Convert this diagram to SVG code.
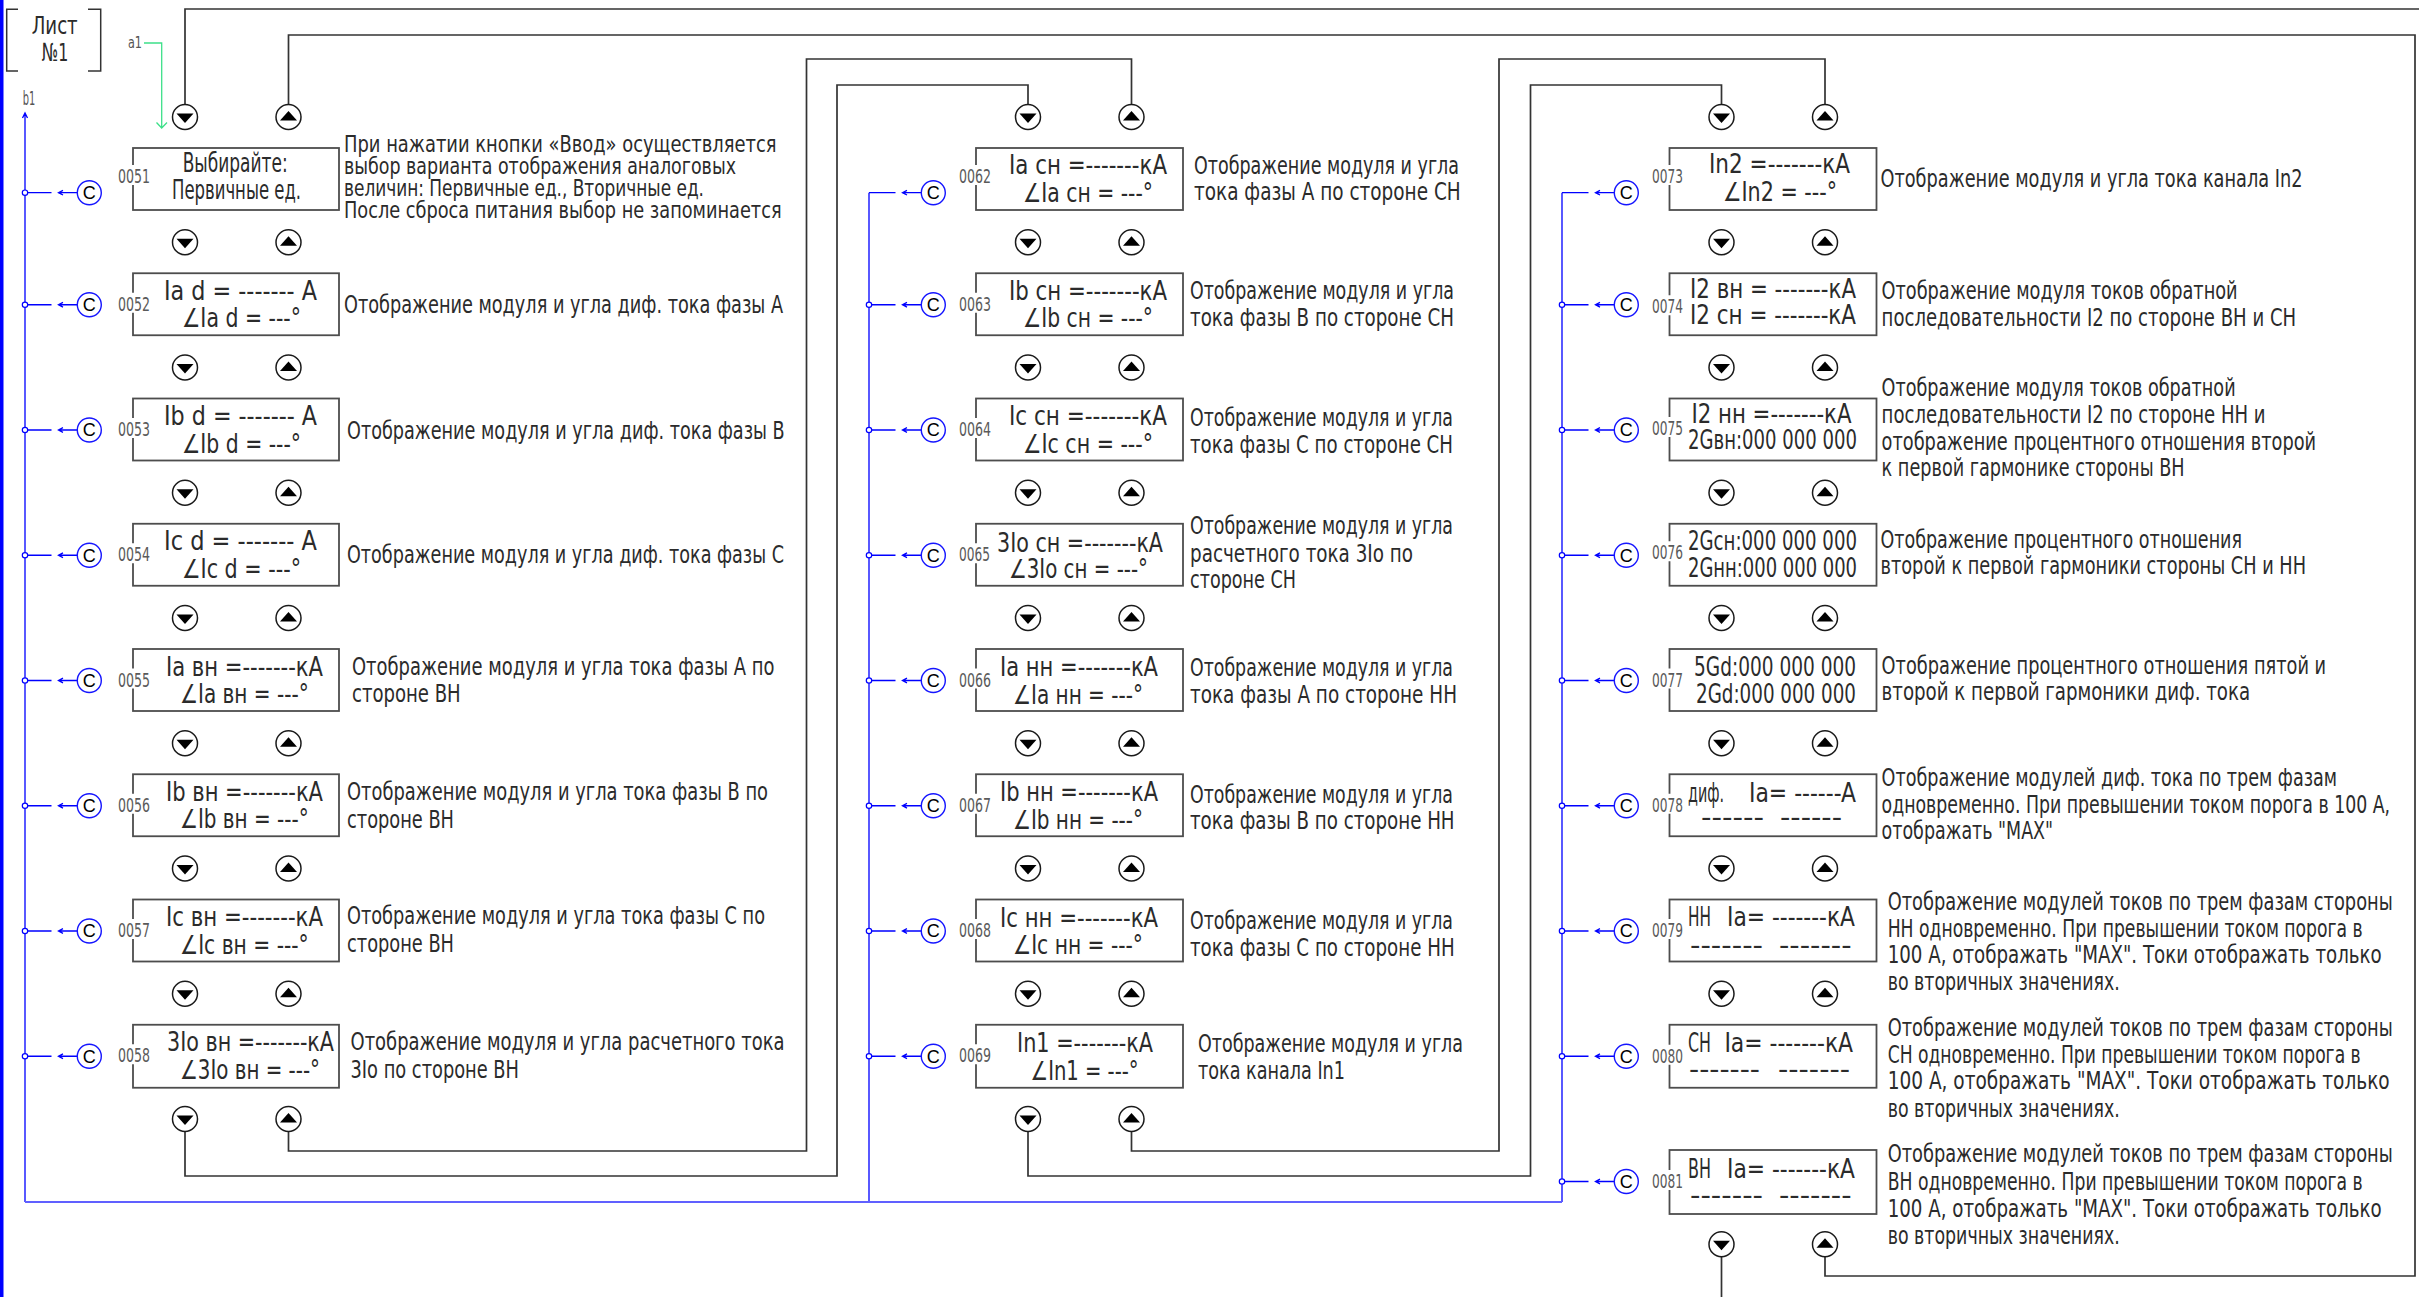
<svg xmlns="http://www.w3.org/2000/svg" xmlns:xlink="http://www.w3.org/1999/xlink" width="2419" height="1297" viewBox="0 0 2419 1297">
<style>
.t{font-family:"Liberation Sans Narrow","DejaVu Sans Condensed","Liberation Sans",sans-serif;fill:#2b2b2b}
.bx{font-size:26px}
.ds{font-size:25px}
.d23{font-size:23px}
.nm{font-size:20px;fill:#5a5a5a}
.box{fill:#fff;stroke:#4d4d4d;stroke-width:1.8}
.bc{fill:#fff;stroke:#1a1a1a;stroke-width:1.5}
.tri{fill:#000}
.w{fill:none;stroke:#333;stroke-width:1.7}
.bl{fill:none;stroke:#0000ff;stroke-width:1.3}
.cc{fill:#fff;stroke:#1515ff;stroke-width:1.4}
.ct{font-family:"Liberation Sans","DejaVu Sans",sans-serif;font-size:18px;fill:#000;text-anchor:middle}
.wb{fill:#fff}
</style>
<defs>
<g id="dn"><circle class="bc" r="12.5"/><path class="tri" d="M-8.5,-3.5 H8.5 L0,6 Z"/></g>
<g id="up"><circle class="bc" r="12.5"/><path class="tri" d="M-8.5,3.5 H8.5 L0,-6 Z"/></g>
<g id="cc"><path class="bl" d="M0,0 H26.5 M52.3,0 H33.5 M38,-2.3 L33.5,0 L38,2.3"/><circle class="cc" cx="64.3" cy="0" r="12"/><text class="ct" x="64.3" y="6.3">C</text></g>
<g id="jn"><circle r="2.7" fill="#fff" stroke="#0000ff" stroke-width="1.2"/></g>
</defs>
<rect width="2419" height="1297" fill="#fff"/>
<rect x="0" y="0" width="3.5" height="1297" fill="#0000ff"/>

<g id="sheet">
<path d="M18,9.3 H6.7 V71 H18 M88,9.3 H100.7 V71 H88" fill="none" stroke="#333" stroke-width="1.5"/>
<text class="t" style="font-size:24px" x="31.7" y="34" textLength="46" lengthAdjust="spacingAndGlyphs">Лист</text>
<text class="t" style="font-size:25px" x="41.7" y="60.7" textLength="26.6" lengthAdjust="spacingAndGlyphs">№1</text>
<text class="t" style="font-size:16px;fill:#555" x="128" y="48" textLength="14" lengthAdjust="spacingAndGlyphs">a1</text>
<text class="t" style="font-size:20px;fill:#555" x="22.7" y="105" textLength="12.5" lengthAdjust="spacingAndGlyphs">b1</text>
</g>

<g id="connectors">
<path class="w" d="M185,104.5 V9 H2419"/>
<path class="w" d="M288.5,104.5 V35 H2415 V1276 H1825 V1256.75"/>
<path class="w" d="M185,1131.5 V1176 H837 V85 H1028 V104.5"/>
<path class="w" d="M288.5,1131.5 V1151 H806.5 V59 H1131.5 V104.5"/>
<path class="w" d="M1028,1131.5 V1176 H1530.5 V85 H1721.5 V104.5"/>
<path class="w" d="M1131.5,1131.5 V1151 H1499 V59 H1825 V104.5"/>
<path class="w" d="M1721.5,1256.75 V1297"/>
<path d="M144,43 H161.7 V128 M156.5,122.5 L161.7,128 L167,122.5" fill="none" stroke="#3de089" stroke-width="1.3"/>
<path class="bl" d="M25,113 V1202 M22.5,118 L25,113 L27.5,118 M869,192.7 V1202 M1562,192.7 V1202"/>
<path d="M25,1202 H1562" fill="none" stroke="#6060ff" stroke-width="2.2"/>
<use xlink:href="#cc" x="25" y="192.7"/><use xlink:href="#jn" x="25" y="192.7"/>
<use xlink:href="#cc" x="25" y="304.75"/><use xlink:href="#jn" x="25" y="304.75"/>
<use xlink:href="#cc" x="25" y="430"/><use xlink:href="#jn" x="25" y="430"/>
<use xlink:href="#cc" x="25" y="555.25"/><use xlink:href="#jn" x="25" y="555.25"/>
<use xlink:href="#cc" x="25" y="680.5"/><use xlink:href="#jn" x="25" y="680.5"/>
<use xlink:href="#cc" x="25" y="805.75"/><use xlink:href="#jn" x="25" y="805.75"/>
<use xlink:href="#cc" x="25" y="931"/><use xlink:href="#jn" x="25" y="931"/>
<use xlink:href="#cc" x="25" y="1056.25"/><use xlink:href="#jn" x="25" y="1056.25"/>
<use xlink:href="#cc" x="869" y="192.7"/>
<use xlink:href="#cc" x="869" y="304.75"/><use xlink:href="#jn" x="869" y="304.75"/>
<use xlink:href="#cc" x="869" y="430"/><use xlink:href="#jn" x="869" y="430"/>
<use xlink:href="#cc" x="869" y="555.25"/><use xlink:href="#jn" x="869" y="555.25"/>
<use xlink:href="#cc" x="869" y="680.5"/><use xlink:href="#jn" x="869" y="680.5"/>
<use xlink:href="#cc" x="869" y="805.75"/><use xlink:href="#jn" x="869" y="805.75"/>
<use xlink:href="#cc" x="869" y="931"/><use xlink:href="#jn" x="869" y="931"/>
<use xlink:href="#cc" x="869" y="1056.25"/><use xlink:href="#jn" x="869" y="1056.25"/>
<use xlink:href="#cc" x="1562" y="192.7"/>
<use xlink:href="#cc" x="1562" y="304.75"/><use xlink:href="#jn" x="1562" y="304.75"/>
<use xlink:href="#cc" x="1562" y="430"/><use xlink:href="#jn" x="1562" y="430"/>
<use xlink:href="#cc" x="1562" y="555.25"/><use xlink:href="#jn" x="1562" y="555.25"/>
<use xlink:href="#cc" x="1562" y="680.5"/><use xlink:href="#jn" x="1562" y="680.5"/>
<use xlink:href="#cc" x="1562" y="805.75"/><use xlink:href="#jn" x="1562" y="805.75"/>
<use xlink:href="#cc" x="1562" y="931"/><use xlink:href="#jn" x="1562" y="931"/>
<use xlink:href="#cc" x="1562" y="1056.25"/><use xlink:href="#jn" x="1562" y="1056.25"/>
<use xlink:href="#cc" x="1562" y="1181.5"/><use xlink:href="#jn" x="1562" y="1181.5"/>
</g>

<g id="buttons">
<use xlink:href="#dn" x="185" y="117"/><use xlink:href="#up" x="288.5" y="117"/>
<use xlink:href="#dn" x="185" y="242.25"/><use xlink:href="#up" x="288.5" y="242.25"/>
<use xlink:href="#dn" x="185" y="367.5"/><use xlink:href="#up" x="288.5" y="367.5"/>
<use xlink:href="#dn" x="185" y="492.75"/><use xlink:href="#up" x="288.5" y="492.75"/>
<use xlink:href="#dn" x="185" y="618"/><use xlink:href="#up" x="288.5" y="618"/>
<use xlink:href="#dn" x="185" y="743.25"/><use xlink:href="#up" x="288.5" y="743.25"/>
<use xlink:href="#dn" x="185" y="868.5"/><use xlink:href="#up" x="288.5" y="868.5"/>
<use xlink:href="#dn" x="185" y="993.75"/><use xlink:href="#up" x="288.5" y="993.75"/>
<use xlink:href="#dn" x="185" y="1119"/><use xlink:href="#up" x="288.5" y="1119"/>
<use xlink:href="#dn" x="1028" y="117"/><use xlink:href="#up" x="1131.5" y="117"/>
<use xlink:href="#dn" x="1028" y="242.25"/><use xlink:href="#up" x="1131.5" y="242.25"/>
<use xlink:href="#dn" x="1028" y="367.5"/><use xlink:href="#up" x="1131.5" y="367.5"/>
<use xlink:href="#dn" x="1028" y="492.75"/><use xlink:href="#up" x="1131.5" y="492.75"/>
<use xlink:href="#dn" x="1028" y="618"/><use xlink:href="#up" x="1131.5" y="618"/>
<use xlink:href="#dn" x="1028" y="743.25"/><use xlink:href="#up" x="1131.5" y="743.25"/>
<use xlink:href="#dn" x="1028" y="868.5"/><use xlink:href="#up" x="1131.5" y="868.5"/>
<use xlink:href="#dn" x="1028" y="993.75"/><use xlink:href="#up" x="1131.5" y="993.75"/>
<use xlink:href="#dn" x="1028" y="1119"/><use xlink:href="#up" x="1131.5" y="1119"/>
<use xlink:href="#dn" x="1721.5" y="117"/><use xlink:href="#up" x="1825" y="117"/>
<use xlink:href="#dn" x="1721.5" y="242.25"/><use xlink:href="#up" x="1825" y="242.25"/>
<use xlink:href="#dn" x="1721.5" y="367.5"/><use xlink:href="#up" x="1825" y="367.5"/>
<use xlink:href="#dn" x="1721.5" y="492.75"/><use xlink:href="#up" x="1825" y="492.75"/>
<use xlink:href="#dn" x="1721.5" y="618"/><use xlink:href="#up" x="1825" y="618"/>
<use xlink:href="#dn" x="1721.5" y="743.25"/><use xlink:href="#up" x="1825" y="743.25"/>
<use xlink:href="#dn" x="1721.5" y="868.5"/><use xlink:href="#up" x="1825" y="868.5"/>
<use xlink:href="#dn" x="1721.5" y="993.75"/><use xlink:href="#up" x="1825" y="993.75"/>
<use xlink:href="#dn" x="1721.5" y="1244.25"/><use xlink:href="#up" x="1825" y="1244.25"/>
</g>

<g id="n0051">
<rect class="box" x="133" y="148" width="206" height="62"/>
<rect class="wb" x="117" y="165" width="36" height="20"/>
<text class="t nm" x="118" y="183" textLength="32" lengthAdjust="spacingAndGlyphs">0051</text>
<text class="t bx" x="182.7" y="172" textLength="105" lengthAdjust="spacingAndGlyphs">Выбирайте:</text>
<text class="t bx" x="172" y="199" textLength="129" lengthAdjust="spacingAndGlyphs">Первичные ед.</text>
<text class="t d23" x="344" y="152" textLength="432.5" lengthAdjust="spacingAndGlyphs">При нажатии кнопки «Ввод» осуществляется</text>
<text class="t d23" x="344" y="174" textLength="392" lengthAdjust="spacingAndGlyphs">выбор варианта отображения аналоговых</text>
<text class="t d23" x="344" y="196" textLength="360" lengthAdjust="spacingAndGlyphs">величин: Первичные ед., Вторичные ед.</text>
<text class="t d23" x="344" y="218" textLength="437.6" lengthAdjust="spacingAndGlyphs">После сброса питания выбор не запоминается</text>
</g>
<g id="n0052">
<rect class="box" x="133" y="273.25" width="206" height="62"/>
<rect class="wb" x="117" y="292.75" width="36" height="20"/>
<text class="t nm" x="118" y="310.75" textLength="32" lengthAdjust="spacingAndGlyphs">0052</text>
<text class="t bx" x="164" y="299.75" textLength="153" lengthAdjust="spacingAndGlyphs">Ia d = ------- A</text>
<text class="t bx" x="182" y="327.25" textLength="119" lengthAdjust="spacingAndGlyphs">∠Ia d = ---°</text>
<text class="t ds" x="344" y="313" textLength="439" lengthAdjust="spacingAndGlyphs">Отображение модуля и угла диф. тока фазы А</text>
</g>
<g id="n0053">
<rect class="box" x="133" y="398.5" width="206" height="62"/>
<rect class="wb" x="117" y="418" width="36" height="20"/>
<text class="t nm" x="118" y="436" textLength="32" lengthAdjust="spacingAndGlyphs">0053</text>
<text class="t bx" x="164" y="425" textLength="153" lengthAdjust="spacingAndGlyphs">Ib d = ------- A</text>
<text class="t bx" x="182" y="452.5" textLength="119" lengthAdjust="spacingAndGlyphs">∠Ib d = ---°</text>
<text class="t ds" x="347" y="439" textLength="437.7" lengthAdjust="spacingAndGlyphs">Отображение модуля и угла диф. тока фазы В</text>
</g>
<g id="n0054">
<rect class="box" x="133" y="523.75" width="206" height="62"/>
<rect class="wb" x="117" y="543.25" width="36" height="20"/>
<text class="t nm" x="118" y="561.25" textLength="32" lengthAdjust="spacingAndGlyphs">0054</text>
<text class="t bx" x="164" y="550.25" textLength="153" lengthAdjust="spacingAndGlyphs">Ic d = ------- A</text>
<text class="t bx" x="182" y="577.75" textLength="119" lengthAdjust="spacingAndGlyphs">∠Ic d = ---°</text>
<text class="t ds" x="347" y="563" textLength="437" lengthAdjust="spacingAndGlyphs">Отображение модуля и угла диф. тока фазы С</text>
</g>
<g id="n0055">
<rect class="box" x="133" y="649" width="206" height="62"/>
<rect class="wb" x="117" y="668.5" width="36" height="20"/>
<text class="t nm" x="118" y="686.5" textLength="32" lengthAdjust="spacingAndGlyphs">0055</text>
<text class="t bx" x="166" y="675.5" textLength="157" lengthAdjust="spacingAndGlyphs">Ia вн =-------кА</text>
<text class="t bx" x="180" y="703" textLength="128.7" lengthAdjust="spacingAndGlyphs">∠Ia вн = ---°</text>
<text class="t ds" x="352" y="675" textLength="422.5" lengthAdjust="spacingAndGlyphs">Отображение модуля и угла тока фазы А по</text>
<text class="t ds" x="352" y="702" textLength="108.7" lengthAdjust="spacingAndGlyphs">стороне ВН</text>
</g>
<g id="n0056">
<rect class="box" x="133" y="774.25" width="206" height="62"/>
<rect class="wb" x="117" y="793.75" width="36" height="20"/>
<text class="t nm" x="118" y="811.75" textLength="32" lengthAdjust="spacingAndGlyphs">0056</text>
<text class="t bx" x="166" y="800.75" textLength="157" lengthAdjust="spacingAndGlyphs">Ib вн =-------кА</text>
<text class="t bx" x="180" y="828.25" textLength="128.7" lengthAdjust="spacingAndGlyphs">∠Ib вн = ---°</text>
<text class="t ds" x="347" y="800" textLength="421" lengthAdjust="spacingAndGlyphs">Отображение модуля и угла тока фазы В по</text>
<text class="t ds" x="347" y="828" textLength="107" lengthAdjust="spacingAndGlyphs">стороне ВН</text>
</g>
<g id="n0057">
<rect class="box" x="133" y="899.5" width="206" height="62"/>
<rect class="wb" x="117" y="919" width="36" height="20"/>
<text class="t nm" x="118" y="937" textLength="32" lengthAdjust="spacingAndGlyphs">0057</text>
<text class="t bx" x="166" y="926" textLength="157" lengthAdjust="spacingAndGlyphs">Ic вн =-------кА</text>
<text class="t bx" x="180" y="953.5" textLength="128.7" lengthAdjust="spacingAndGlyphs">∠Ic вн = ---°</text>
<text class="t ds" x="347" y="924" textLength="418" lengthAdjust="spacingAndGlyphs">Отображение модуля и угла тока фазы С по</text>
<text class="t ds" x="347" y="952" textLength="107" lengthAdjust="spacingAndGlyphs">стороне ВН</text>
</g>
<g id="n0058">
<rect class="box" x="133" y="1024.75" width="206" height="63"/>
<rect class="wb" x="117" y="1044.25" width="36" height="20"/>
<text class="t nm" x="118" y="1062.25" textLength="32" lengthAdjust="spacingAndGlyphs">0058</text>
<text class="t bx" x="167" y="1051.25" textLength="167" lengthAdjust="spacingAndGlyphs">3Io вн =-------кА</text>
<text class="t bx" x="180" y="1078.75" textLength="140" lengthAdjust="spacingAndGlyphs">∠3Io вн = ---°</text>
<text class="t ds" x="350.5" y="1050" textLength="434" lengthAdjust="spacingAndGlyphs">Отображение модуля и угла расчетного тока</text>
<text class="t ds" x="350.5" y="1078" textLength="168.5" lengthAdjust="spacingAndGlyphs">3Io по стороне ВН</text>
</g>

<g id="n0062">
<rect class="box" x="976" y="148" width="207" height="62"/>
<rect class="wb" x="958" y="165" width="36" height="20"/>
<text class="t nm" x="959" y="183" textLength="32" lengthAdjust="spacingAndGlyphs">0062</text>
<text class="t bx" x="1009" y="174" textLength="158" lengthAdjust="spacingAndGlyphs">Ia сн =-------кА</text>
<text class="t bx" x="1023" y="201.5" textLength="130" lengthAdjust="spacingAndGlyphs">∠Ia сн = ---°</text>
<text class="t ds" x="1194" y="174" textLength="265" lengthAdjust="spacingAndGlyphs">Отображение модуля и угла</text>
<text class="t ds" x="1194" y="200" textLength="266.7" lengthAdjust="spacingAndGlyphs">тока фазы А по стороне СН</text>
</g>
<g id="n0063">
<rect class="box" x="976" y="273.25" width="207" height="62"/>
<rect class="wb" x="958" y="292.75" width="36" height="20"/>
<text class="t nm" x="959" y="310.75" textLength="32" lengthAdjust="spacingAndGlyphs">0063</text>
<text class="t bx" x="1009" y="299.75" textLength="158" lengthAdjust="spacingAndGlyphs">Ib сн =-------кА</text>
<text class="t bx" x="1023" y="327.25" textLength="130" lengthAdjust="spacingAndGlyphs">∠Ib сн = ---°</text>
<text class="t ds" x="1190" y="299.3" textLength="264" lengthAdjust="spacingAndGlyphs">Отображение модуля и угла</text>
<text class="t ds" x="1190" y="326" textLength="264" lengthAdjust="spacingAndGlyphs">тока фазы В по стороне СН</text>
</g>
<g id="n0064">
<rect class="box" x="976" y="398.5" width="207" height="62"/>
<rect class="wb" x="958" y="418" width="36" height="20"/>
<text class="t nm" x="959" y="436" textLength="32" lengthAdjust="spacingAndGlyphs">0064</text>
<text class="t bx" x="1009" y="425" textLength="158" lengthAdjust="spacingAndGlyphs">Ic сн =-------кА</text>
<text class="t bx" x="1023" y="452.5" textLength="130" lengthAdjust="spacingAndGlyphs">∠Ic сн = ---°</text>
<text class="t ds" x="1190" y="426" textLength="263" lengthAdjust="spacingAndGlyphs">Отображение модуля и угла</text>
<text class="t ds" x="1190" y="452.7" textLength="263" lengthAdjust="spacingAndGlyphs">тока фазы С по стороне СН</text>
</g>
<g id="n0065">
<rect class="box" x="976" y="523.75" width="207" height="62"/>
<rect class="wb" x="958" y="543.25" width="36" height="20"/>
<text class="t nm" x="959" y="561.25" textLength="31" lengthAdjust="spacingAndGlyphs">0065</text>
<text class="t bx" x="997" y="551.75" textLength="166" lengthAdjust="spacingAndGlyphs">3Io сн =-------кА</text>
<text class="t bx" x="1009" y="578.25" textLength="139" lengthAdjust="spacingAndGlyphs">∠3Io сн = ---°</text>
<text class="t ds" x="1190" y="534.3" textLength="263" lengthAdjust="spacingAndGlyphs">Отображение модуля и угла</text>
<text class="t ds" x="1190" y="561.7" textLength="223" lengthAdjust="spacingAndGlyphs">расчетного тока 3Io по</text>
<text class="t ds" x="1190" y="588.3" textLength="106" lengthAdjust="spacingAndGlyphs">стороне СН</text>
</g>
<g id="n0066">
<rect class="box" x="976" y="649" width="207" height="62"/>
<rect class="wb" x="958" y="668.5" width="36" height="20"/>
<text class="t nm" x="959" y="686.5" textLength="32" lengthAdjust="spacingAndGlyphs">0066</text>
<text class="t bx" x="1000" y="676" textLength="158" lengthAdjust="spacingAndGlyphs">Ia нн =-------кА</text>
<text class="t bx" x="1013" y="703.5" textLength="130" lengthAdjust="spacingAndGlyphs">∠Ia нн = ---°</text>
<text class="t ds" x="1190" y="676" textLength="263" lengthAdjust="spacingAndGlyphs">Отображение модуля и угла</text>
<text class="t ds" x="1190" y="702.7" textLength="267" lengthAdjust="spacingAndGlyphs">тока фазы А по стороне НН</text>
</g>
<g id="n0067">
<rect class="box" x="976" y="774.25" width="207" height="62"/>
<rect class="wb" x="958" y="793.75" width="36" height="20"/>
<text class="t nm" x="959" y="811.75" textLength="32" lengthAdjust="spacingAndGlyphs">0067</text>
<text class="t bx" x="1000" y="801.25" textLength="158" lengthAdjust="spacingAndGlyphs">Ib нн =-------кА</text>
<text class="t bx" x="1013" y="828.75" textLength="130" lengthAdjust="spacingAndGlyphs">∠Ib нн = ---°</text>
<text class="t ds" x="1190" y="802.7" textLength="263" lengthAdjust="spacingAndGlyphs">Отображение модуля и угла</text>
<text class="t ds" x="1190" y="829.3" textLength="264.6" lengthAdjust="spacingAndGlyphs">тока фазы В по стороне НН</text>
</g>
<g id="n0068">
<rect class="box" x="976" y="899.5" width="207" height="62"/>
<rect class="wb" x="958" y="919" width="36" height="20"/>
<text class="t nm" x="959" y="937" textLength="32" lengthAdjust="spacingAndGlyphs">0068</text>
<text class="t bx" x="1000" y="926.5" textLength="158" lengthAdjust="spacingAndGlyphs">Ic нн =-------кА</text>
<text class="t bx" x="1013" y="954" textLength="130" lengthAdjust="spacingAndGlyphs">∠Ic нн = ---°</text>
<text class="t ds" x="1190" y="929.3" textLength="263" lengthAdjust="spacingAndGlyphs">Отображение модуля и угла</text>
<text class="t ds" x="1190" y="956" textLength="264.6" lengthAdjust="spacingAndGlyphs">тока фазы С по стороне НН</text>
</g>
<g id="n0069">
<rect class="box" x="976" y="1024.75" width="207" height="63"/>
<rect class="wb" x="958" y="1044.25" width="36" height="20"/>
<text class="t nm" x="959" y="1062.25" textLength="32" lengthAdjust="spacingAndGlyphs">0069</text>
<text class="t bx" x="1017" y="1051.75" textLength="136" lengthAdjust="spacingAndGlyphs">In1 =-------кА</text>
<text class="t bx" x="1030.6" y="1079.75" textLength="108" lengthAdjust="spacingAndGlyphs">∠In1 = ---°</text>
<text class="t ds" x="1198" y="1051.7" textLength="265" lengthAdjust="spacingAndGlyphs">Отображение модуля и угла</text>
<text class="t ds" x="1198" y="1079.3" textLength="147" lengthAdjust="spacingAndGlyphs">тока канала In1</text>
</g>

<g id="n0073">
<rect class="box" x="1669.5" y="148" width="207" height="62"/>
<rect class="wb" x="1651" y="165" width="36" height="20"/>
<text class="t nm" x="1652" y="183" textLength="31" lengthAdjust="spacingAndGlyphs">0073</text>
<text class="t bx" x="1709" y="173" textLength="141" lengthAdjust="spacingAndGlyphs">In2 =-------кА</text>
<text class="t bx" x="1723" y="201" textLength="114" lengthAdjust="spacingAndGlyphs">∠In2 = ---°</text>
<text class="t ds" x="1880.5" y="186.7" textLength="422" lengthAdjust="spacingAndGlyphs">Отображение модуля и угла тока канала In2</text>
</g>
<g id="n0074">
<rect class="box" x="1669.5" y="273.25" width="207" height="62"/>
<rect class="wb" x="1651" y="295.25" width="36" height="20"/>
<text class="t nm" x="1652" y="313.25" textLength="31" lengthAdjust="spacingAndGlyphs">0074</text>
<text class="t bx" x="1690" y="297.75" textLength="166" lengthAdjust="spacingAndGlyphs">I2 вн = -------кА</text>
<text class="t bx" x="1690" y="323.75" textLength="166" lengthAdjust="spacingAndGlyphs">I2 сн = -------кА</text>
<text class="t ds" x="1881.6" y="299.3" textLength="356" lengthAdjust="spacingAndGlyphs">Отображение модуля токов обратной</text>
<text class="t ds" x="1881.6" y="326" textLength="414.5" lengthAdjust="spacingAndGlyphs">последовательности I2 по стороне ВН и СН</text>
</g>
<g id="n0075">
<rect class="box" x="1669.5" y="398.5" width="207" height="62"/>
<rect class="wb" x="1651" y="417" width="36" height="20"/>
<text class="t nm" x="1652" y="435" textLength="31" lengthAdjust="spacingAndGlyphs">0075</text>
<text class="t bx" x="1691.5" y="423" textLength="160" lengthAdjust="spacingAndGlyphs">I2 нн =-------кА</text>
<text class="t bx" x="1688" y="449" textLength="169" lengthAdjust="spacingAndGlyphs">2Gвн:000 000 000</text>
<text class="t ds" x="1881.6" y="396" textLength="354" lengthAdjust="spacingAndGlyphs">Отображение модуля токов обратной</text>
<text class="t ds" x="1881.6" y="422.7" textLength="384" lengthAdjust="spacingAndGlyphs">последовательности I2 по стороне НН и</text>
<text class="t ds" x="1881.6" y="450" textLength="434.5" lengthAdjust="spacingAndGlyphs">отображение процентного отношения второй</text>
<text class="t ds" x="1881.6" y="476" textLength="303" lengthAdjust="spacingAndGlyphs">к первой гармонике стороны ВН</text>
</g>
<g id="n0076">
<rect class="box" x="1669.5" y="523.75" width="207" height="62"/>
<rect class="wb" x="1651" y="541.25" width="36" height="20"/>
<text class="t nm" x="1652" y="559.25" textLength="31" lengthAdjust="spacingAndGlyphs">0076</text>
<text class="t bx" x="1688" y="549.75" textLength="169" lengthAdjust="spacingAndGlyphs">2Gсн:000 000 000</text>
<text class="t bx" x="1688" y="576.75" textLength="169" lengthAdjust="spacingAndGlyphs">2Gнн:000 000 000</text>
<text class="t ds" x="1880.5" y="547.7" textLength="361.5" lengthAdjust="spacingAndGlyphs">Отображение процентного отношения</text>
<text class="t ds" x="1880.5" y="574" textLength="425.5" lengthAdjust="spacingAndGlyphs">второй к первой гармоники стороны СН и НН</text>
</g>
<g id="n0077">
<rect class="box" x="1669.5" y="649" width="207" height="62"/>
<rect class="wb" x="1651" y="668.5" width="36" height="20"/>
<text class="t nm" x="1652" y="686.5" textLength="31" lengthAdjust="spacingAndGlyphs">0077</text>
<text class="t bx" x="1694" y="676" textLength="162" lengthAdjust="spacingAndGlyphs">5Gd:000 000 000</text>
<text class="t bx" x="1696" y="703" textLength="160" lengthAdjust="spacingAndGlyphs">2Gd:000 000 000</text>
<text class="t ds" x="1881.6" y="674.3" textLength="444.5" lengthAdjust="spacingAndGlyphs">Отображение процентного отношения пятой и</text>
<text class="t ds" x="1881.6" y="700" textLength="368.5" lengthAdjust="spacingAndGlyphs">второй  к первой гармоники диф. тока</text>
</g>
<g id="n0078">
<rect class="box" x="1669.5" y="774.25" width="207" height="62"/>
<rect class="wb" x="1651" y="793.75" width="36" height="20"/>
<text class="t nm" x="1652" y="811.75" textLength="31" lengthAdjust="spacingAndGlyphs">0078</text>
<text class="t bx" x="1688" y="802.25" textLength="36" lengthAdjust="spacingAndGlyphs">диф.</text>
<text class="t bx" x="1749" y="802.25" textLength="107" lengthAdjust="spacingAndGlyphs">Ia= ------A</text>
<text class="t bx" x="1701" y="826.25" textLength="63" lengthAdjust="spacingAndGlyphs">------</text>
<text class="t bx" x="1780" y="826.25" textLength="62" lengthAdjust="spacingAndGlyphs">------</text>
<text class="t ds" x="1881.6" y="786" textLength="455.5" lengthAdjust="spacingAndGlyphs">Отображение модулей диф. тока по трем фазам</text>
<text class="t ds" x="1881.6" y="812.7" textLength="508.5" lengthAdjust="spacingAndGlyphs">одновременно. При превышении током порога в 100 А,</text>
<text class="t ds" x="1881.6" y="839.3" textLength="171.5" lengthAdjust="spacingAndGlyphs">отображать "MAX"</text>
</g>
<g id="n0079">
<rect class="box" x="1669.5" y="899.5" width="207" height="62"/>
<rect class="wb" x="1651" y="919" width="36" height="20"/>
<text class="t nm" x="1652" y="937" textLength="31" lengthAdjust="spacingAndGlyphs">0079</text>
<text class="t bx" x="1688" y="926" textLength="23" lengthAdjust="spacingAndGlyphs">НН</text>
<text class="t bx" x="1727" y="926" textLength="128" lengthAdjust="spacingAndGlyphs">Ia= -------кА</text>
<text class="t bx" x="1690" y="953.5" textLength="73" lengthAdjust="spacingAndGlyphs">-------</text>
<text class="t bx" x="1779" y="953.5" textLength="72.5" lengthAdjust="spacingAndGlyphs">-------</text>
<text class="t ds" x="1887.7" y="910" textLength="505" lengthAdjust="spacingAndGlyphs">Отображение модулей токов по трем фазам стороны</text>
<text class="t ds" x="1887.7" y="936.7" textLength="475" lengthAdjust="spacingAndGlyphs">НН одновременно. При превышении током порога в</text>
<text class="t ds" x="1887.7" y="963.3" textLength="494" lengthAdjust="spacingAndGlyphs">100 А, отображать "MAX". Токи отображать только</text>
<text class="t ds" x="1887.7" y="990" textLength="232" lengthAdjust="spacingAndGlyphs">во вторичных значениях.</text>
</g>
<g id="n0080">
<rect class="box" x="1669.5" y="1024.75" width="207" height="63"/>
<rect class="wb" x="1651" y="1044.75" width="36" height="20"/>
<text class="t nm" x="1652" y="1062.75" textLength="31" lengthAdjust="spacingAndGlyphs">0080</text>
<text class="t bx" x="1688" y="1051.75" textLength="23" lengthAdjust="spacingAndGlyphs">СН</text>
<text class="t bx" x="1724.4" y="1051.75" textLength="128.7" lengthAdjust="spacingAndGlyphs">Ia= -------кА</text>
<text class="t bx" x="1689" y="1077.75" textLength="71" lengthAdjust="spacingAndGlyphs">-------</text>
<text class="t bx" x="1778" y="1077.75" textLength="72" lengthAdjust="spacingAndGlyphs">-------</text>
<text class="t ds" x="1887.7" y="1035.7" textLength="505" lengthAdjust="spacingAndGlyphs">Отображение модулей токов по трем фазам стороны</text>
<text class="t ds" x="1887.7" y="1062.7" textLength="473" lengthAdjust="spacingAndGlyphs">СН одновременно. При превышении током порога в</text>
<text class="t ds" x="1887.7" y="1089.3" textLength="502" lengthAdjust="spacingAndGlyphs">100 А, отображать "MAX".  Токи отображать только</text>
<text class="t ds" x="1887.7" y="1116.7" textLength="232" lengthAdjust="spacingAndGlyphs">во вторичных значениях.</text>
</g>
<g id="n0081">
<rect class="box" x="1669.5" y="1150" width="207" height="64"/>
<rect class="wb" x="1651" y="1170" width="36" height="20"/>
<text class="t nm" x="1652" y="1188" textLength="31" lengthAdjust="spacingAndGlyphs">0081</text>
<text class="t bx" x="1688" y="1178" textLength="23" lengthAdjust="spacingAndGlyphs">ВН</text>
<text class="t bx" x="1727" y="1178" textLength="128" lengthAdjust="spacingAndGlyphs">Ia= -------кА</text>
<text class="t bx" x="1690" y="1204" textLength="73" lengthAdjust="spacingAndGlyphs">-------</text>
<text class="t bx" x="1779" y="1204" textLength="72.5" lengthAdjust="spacingAndGlyphs">-------</text>
<text class="t ds" x="1887.7" y="1161.7" textLength="505" lengthAdjust="spacingAndGlyphs">Отображение модулей токов по трем фазам стороны</text>
<text class="t ds" x="1887.7" y="1190" textLength="475" lengthAdjust="spacingAndGlyphs">ВН одновременно. При превышении током порога в</text>
<text class="t ds" x="1887.7" y="1216.7" textLength="494" lengthAdjust="spacingAndGlyphs">100 А, отображать "MAX". Токи отображать только</text>
<text class="t ds" x="1887.7" y="1244.3" textLength="232" lengthAdjust="spacingAndGlyphs">во вторичных значениях.</text>
</g>
</svg>
